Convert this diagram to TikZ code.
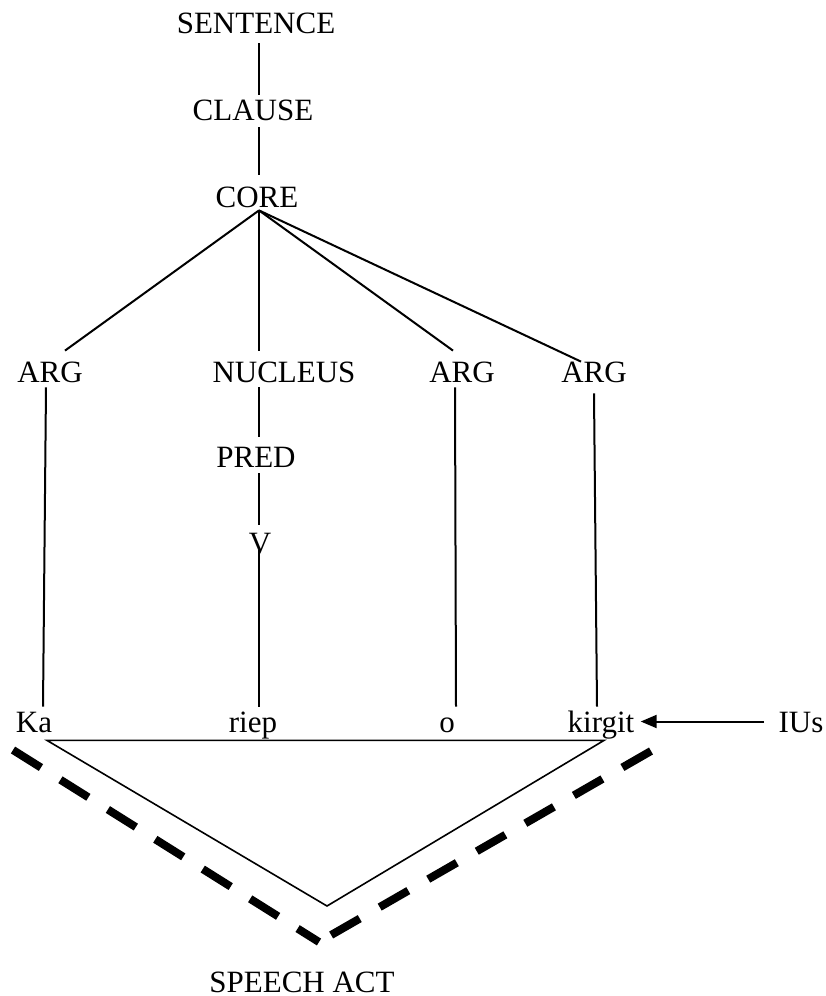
\documentclass[tikz,border=0pt]{standalone}
\usepackage{fontspec}
\setmainfont{Liberation Serif}
\usetikzlibrary{arrows.meta}
\tikzset{>={Triangle[length=8pt,width=6.5pt]}}
\tikzset{
  lab/.style={inner sep=0pt, anchor=base, text height=10pt, text depth=0pt,
    font=\fontsize{15.5}{18}\selectfont},
  word/.style={lab, text height=12.5pt},
  branch/.style={line width=1pt},
  tri/.style={line width=0.8pt, line join=miter},
  speech/.style={line width=4pt, dash pattern=on 16.5pt off 11.5pt},
}

\begin{document}
\begin{tikzpicture}[x=0.5pt, y=-0.5pt]
  \useasboundingbox (0,0) rectangle (825,996);

  % tree labels
  \node[lab] (sent) at (256,33) {SENTENCE};
  \node[lab] (clause) at (253,120) {CLAUSE};
  \node[lab] (core) at (257,207) {CORE};
  \node[lab] (argA) at (50,382) {ARG};
  \node[lab] (nuc) at (284,382) {NUCLEUS};
  \node[lab] (argB) at (462,382) {ARG};
  \node[lab] (argC) at (594,382) {ARG};
  \node[lab] (pred) at (256,467) {PRED};
  \node[lab] (verb) at (260,553) {V};

  % words
  \node[word] (ka) at (34,732) {Ka};
  \node[word] (riep) at (253,732) {riep};
  \node[word] (o) at (447,732) {o};
  \node[word] (kirgit) at (601,732) {kirgit};
  \node[word] (ius) at (801,732) {IUs};
  \node[lab] (sa) at (302,992) {SPEECH ACT};

  % spine
  \coordinate (spine) at (259,0);
  \draw[branch] ([yshift=-5pt]sent.south -| spine) -- ([yshift=2.5pt]clause.north -| spine);
  \draw[branch] ([yshift=-3.5pt]clause.south -| spine) -- ([yshift=6pt]core.north -| spine);
  \coordinate (hub) at ([yshift=-1.5pt]core.south -| spine);

  % core branches
  \draw[branch] (hub) -- ([xshift=7.5pt,yshift=5.5pt]argA.north);
  \draw[branch] (hub) -- ([yshift=5.5pt]nuc.north -| spine);
  \draw[branch] (hub) -- ([xshift=-4.5pt,yshift=5.5pt]argB.north);
  \draw[branch] (hub) -- ([xshift=-6.5pt]argC.north);

  % down to the words
  \draw[branch] ([xshift=-2pt,yshift=-2.5pt]argA.south) -- ([xshift=4.5pt]ka.north);
  \draw[branch] ([yshift=-2.5pt]nuc.south -| spine) -- ([yshift=5pt]pred.north -| spine);
  \draw[branch] ([yshift=-3pt]pred.south -| spine) -- ([yshift=4pt]verb.north -| spine);
  \draw[branch] ([yshift=1.5pt]verb.south -| spine) -- (riep.north -| spine);
  \draw[branch] ([xshift=-3.5pt,yshift=-2.5pt]argB.south) -- ([xshift=4.5pt]o.north);
  \draw[branch] ([yshift=-5.5pt]argC.south) -- ([xshift=-2pt]kirgit.north);

  % IUs arrow
  \draw[branch,->] ([xshift=-7pt,yshift=-1pt]ius.west) -- ([xshift=3pt,yshift=-1pt]kirgit.east);

  % speech act triangle
  \coordinate (tl) at ([xshift=6.5pt,yshift=-4pt]ka.south);
  \coordinate (tr) at ([xshift=1.5pt,yshift=-4pt]kirgit.south);
  \coordinate (apex) at (327,906);
  \draw[tri] (tl) -- (tr) -- (apex) -- cycle;

  % dashed bracket
  \coordinate (dl) at (13,750);
  \coordinate (dv) at (319,942);
  \coordinate (dr) at (651,751);
  \draw[speech] (dl) -- (dv);
  \draw[speech] (dr) -- (dv);
\end{tikzpicture}
\end{document}
